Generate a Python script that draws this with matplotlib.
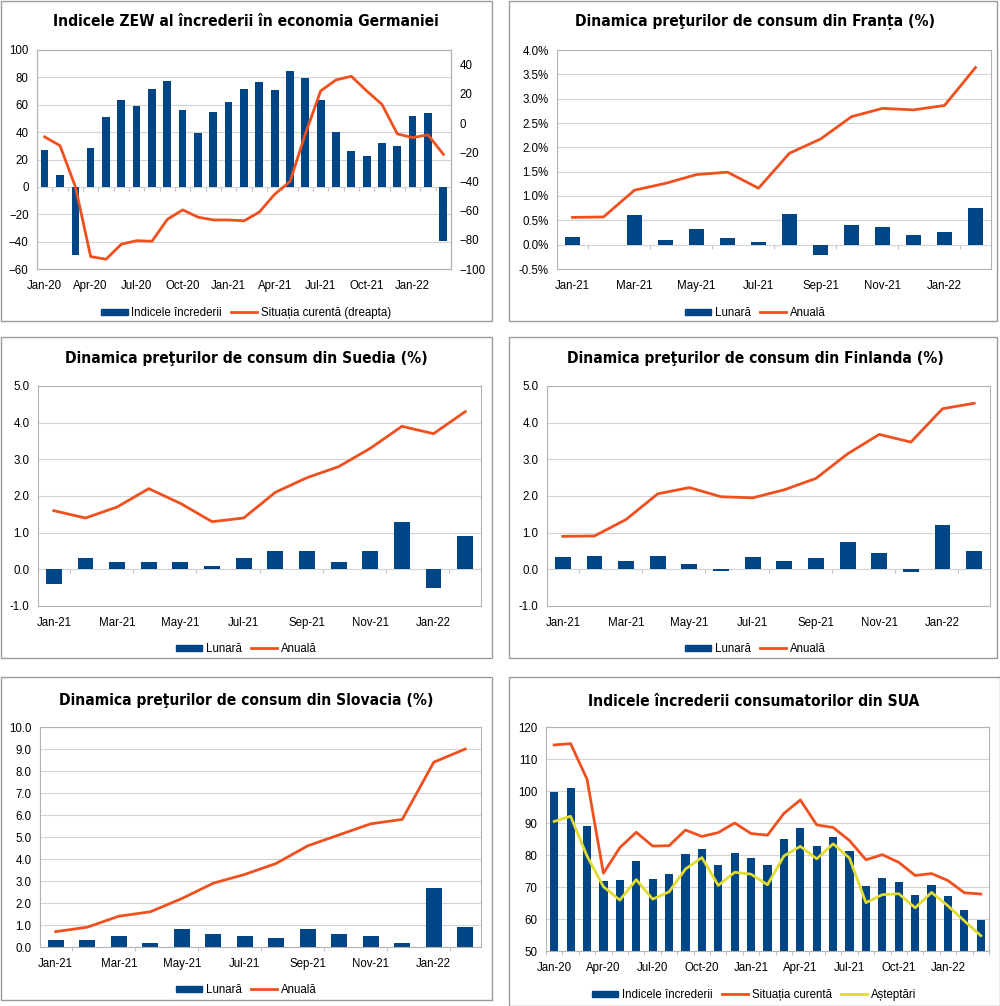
import matplotlib
matplotlib.use("Agg")
import matplotlib.pyplot as plt
from matplotlib import font_manager
from matplotlib.patches import Rectangle, Patch
from matplotlib.lines import Line2D
from matplotlib.ticker import FuncFormatter, NullFormatter

plt.rcParams['font.family'] = ['Liberation Sans', 'DejaVu Sans']

# ---- data ----
months_20 = ["Jan-20", "Feb-20", "Mar-20", "Apr-20", "May-20", "Jun-20", "Jul-20", "Aug-20", "Sep-20",
             "Oct-20", "Nov-20", "Dec-20", "Jan-21", "Feb-21", "Mar-21", "Apr-21", "May-21", "Jun-21",
             "Jul-21", "Aug-21", "Sep-21", "Oct-21", "Nov-21", "Dec-21", "Jan-22", "Feb-22", "Mar-22"]
months_21 = ["Jan-21", "Feb-21", "Mar-21", "Apr-21", "May-21", "Jun-21", "Jul-21", "Aug-21", "Sep-21",
             "Oct-21", "Nov-21", "Dec-21", "Jan-22", "Feb-22"]

zew_sentiment = [27.0, 8.7, -49.5, 28.2, 51.0, 63.4, 59.3, 71.5, 77.4, 56.1, 39.0, 55.0, 61.8, 71.2,
                 76.6, 70.7, 84.4, 79.8, 63.3, 40.4, 26.5, 22.3, 31.7, 29.9, 51.7, 54.3, -39.3]
zew_current = [-9.5, -15.5, -43.5, -91.5, -93.3, -83.0, -80.6, -81.0, -66.0, -59.5, -64.5, -66.4,
               -66.4, -67.0, -61.0, -48.8, -40.1, -7.5, 22.0, 29.5, 32.0, 22.0, 12.7, -7.5, -10.0,
               -8.1, -21.4]

fr_monthly = [0.15, 0.0, 0.60, 0.10, 0.32, 0.13, 0.05, 0.62, -0.22, 0.41, 0.36, 0.19, 0.25, 0.76]
fr_annual = [0.56, 0.57, 1.12, 1.26, 1.44, 1.49, 1.16, 1.88, 2.17, 2.63, 2.80, 2.77, 2.86, 3.64]

se_monthly = [-0.4, 0.3, 0.2, 0.2, 0.2, 0.1, 0.3, 0.5, 0.5, 0.2, 0.5, 1.3, -0.5, 0.9]
se_annual = [1.6, 1.4, 1.7, 2.2, 1.8, 1.3, 1.4, 2.1, 2.5, 2.8, 3.3, 3.9, 3.7, 4.3]

fi_monthly = [0.34, 0.36, 0.22, 0.37, 0.15, -0.04, 0.33, 0.22, 0.31, 0.75, 0.44, -0.06, 1.21, 0.51]
fi_annual = [0.90, 0.91, 1.36, 2.06, 2.23, 1.98, 1.95, 2.17, 2.48, 3.15, 3.68, 3.47, 4.38, 4.53]

sk_monthly = [0.3, 0.3, 0.5, 0.2, 0.8, 0.6, 0.5, 0.4, 0.8, 0.6, 0.5, 0.2, 2.7, 0.9]
sk_annual = [0.7, 0.9, 1.4, 1.6, 2.2, 2.9, 3.3, 3.8, 4.6, 5.1, 5.6, 5.8, 8.4, 9.0]

us_sentiment = [99.8, 101.0, 89.1, 71.8, 72.3, 78.1, 72.5, 74.1, 80.4, 81.8, 76.9, 80.7, 79.0, 76.8,
                84.9, 88.3, 82.9, 85.5, 81.2, 70.3, 72.8, 71.7, 67.4, 70.6, 67.2, 62.8, 59.7]
us_current = [114.4, 114.8, 103.7, 74.3, 82.3, 87.1, 82.8, 82.9, 87.8, 85.8, 87.0, 90.0, 86.7, 86.2,
              93.0, 97.2, 89.4, 88.6, 84.5, 78.5, 80.1, 77.7, 73.6, 74.2, 72.0, 68.2, 67.8]
us_expect = [90.5, 92.1, 79.7, 70.1, 65.9, 72.3, 66.2, 68.5, 75.6, 79.2, 70.5, 74.6, 74.0, 70.7,
             79.7, 82.7, 78.8, 83.5, 79.0, 65.1, 67.6, 67.9, 63.5, 68.3, 64.1, 59.4, 54.8]

titles = ["Indicele ZEW al încrederii în economia Germaniei",
          "Dinamica preţurilor de consum din Franța (%)",
          "Dinamica preţurilor de consum din Suedia (%)",
          "Dinamica preţurilor de consum din Finlanda (%)",
          "Dinamica preţurilor de consum din Slovacia (%)",
          "Indicele încrederii consumatorilor din SUA"]

BLUE = "#004586"
ORANGE = "#f0501e"
YELLOW = "#e2dc30"
GRID = "#d4d4d4"
FRAME = "#b3b3b3"

W, H = 1000, 1006
fig = plt.figure(figsize=(W / 100, H / 100), dpi=100)

# pick a narrow bold face for the titles if one is around
narrow = [f for f in font_manager.fontManager.ttflist
          if f.weight in (700, "bold") and f.style == "normal"
          and ("ondensed" in f.fname or "Narrow" in f.fname)]
narrow.sort(key=lambda f: f.fname)
TITLE_FILE = narrow[0].fname if narrow else None


def px_box(x0, y0, x1, y1):
    # pixel box (top-left origin) -> figure fraction [l, b, w, h]
    return [x0 / W, 1 - y1 / H, (x1 - x0) / W, (y1 - y0) / H]


def frame(x0, y0, x1, y1):
    l, b, w, h = px_box(x0, y0, x1, y1)
    fig.patches.append(Rectangle((l, b), w, h, transform=fig.transFigure, fill=False,
                                 edgecolor="#9a9a9a", linewidth=1.0))


def title(text, xc, y):
    if TITLE_FILE:
        fp = font_manager.FontProperties(fname=TITLE_FILE, size=11.2)
    else:
        fp = font_manager.FontProperties(family=["Roboto", "DejaVu Sans"], weight="bold", size=10.5)
    fig.text(xc / W, 1 - y / H, text, ha="center", va="center", fontproperties=fp)


def style_axes(ax, labels, step, ylim, yticks, marks):
    n = len(labels)
    ax.set_xlim(-0.5, n - 0.5)
    ax.set_ylim(*ylim)
    ax.set_yticks(yticks)
    ax.set_xticks(range(0, n, step))
    ax.set_xticklabels(labels[::step])
    ax.grid(axis="y", color=GRID, linewidth=0.8)
    ax.set_axisbelow(True)
    for s in ax.spines.values():
        s.set_color(FRAME)
        s.set_linewidth(0.8)
    ax.tick_params(axis="both", labelsize=8.3, length=0, pad=6)
    ax.tick_params(axis="x", pad=8)
    # little category marks where the x axis crosses zero
    zero = (max(0, ylim[0]) - ylim[0]) / (ylim[1] - ylim[0])
    sec = ax.secondary_xaxis(zero)
    sec.xaxis.set_ticks_position("bottom")
    sec.set_xticks(marks)
    sec.xaxis.set_major_formatter(NullFormatter())
    sec.tick_params(axis="x", which="both", direction="out", length=3, width=0.8, color="#c4c4c4",
                    labelbottom=False, labeltop=False, top=False, bottom=True)
    for s in sec.spines.values():
        s.set_visible(False)


def legend(handles, labels, xc, y):
    fig.legend(handles, labels, loc="center", bbox_to_anchor=(xc / W, 1 - y / H), ncol=len(handles),
               frameon=False, fontsize=8.3, handlelength=2.3, handleheight=0.5, columnspacing=0.8,
               handletextpad=0.3)


bar_h = lambda: Patch(facecolor=BLUE, edgecolor=BLUE)
line_h = lambda c: Line2D([], [], color=c, linewidth=2)

every_27 = [i + 0.5 for i in range(-1, 27)]
every_2nd = [i + 0.5 for i in range(0, 14, 2)]

# panel frames
frame(1, 1, 492, 321)
frame(509, 1, 997, 321)
frame(1, 337, 492, 658)
frame(509, 337, 997, 658)
frame(1, 677, 492, 1000)
frame(509, 677, 1000, 1006)

# ---- 1: ZEW ----
ax = fig.add_axes(px_box(37, 50, 451, 269))
x = range(len(months_20))
ax.bar(x, zew_sentiment, width=0.5, color=BLUE)
style_axes(ax, months_20, 3, (-60, 100), range(-60, 101, 20), every_27)
ax2 = ax.twinx()
ax2.plot(x, zew_current, color=ORANGE, linewidth=2)
ax2.set_ylim(-100, 50)
ax2.set_yticks(range(-100, 41, 20))
ax2.tick_params(axis="y", labelsize=8.3, length=0, pad=6)
for s in ax2.spines.values():
    s.set_color(FRAME)
    s.set_linewidth(0.8)
title(titles[0], 246, 22)
legend([bar_h(), line_h(ORANGE)], ["Indicele încrederii", "Situația curentă (dreapta)"], 246, 313)

# ---- 2: France ----
ax = fig.add_axes(px_box(557, 50, 991, 269))
x = range(len(months_21))
ax.bar(x, fr_monthly, width=0.5, color=BLUE)
ax.plot(x, fr_annual, color=ORANGE, linewidth=2)
style_axes(ax, months_21, 2, (-0.5, 4.0), [i * 0.5 for i in range(-1, 9)], every_2nd)
ax.yaxis.set_major_formatter(FuncFormatter(lambda v, p: f"{v:.1f}%"))
title(titles[1], 755, 22)
legend([bar_h(), line_h(ORANGE)], ["Lunară", "Anuală"], 755, 313)

# ---- 3: Sweden ----
ax = fig.add_axes(px_box(38, 386, 481, 606))
ax.bar(x, se_monthly, width=0.5, color=BLUE)
ax.plot(x, se_annual, color=ORANGE, linewidth=2)
style_axes(ax, months_21, 2, (-1, 5), range(-1, 6), every_2nd)
ax.yaxis.set_major_formatter(FuncFormatter(lambda v, p: f"{v:.1f}"))
title(titles[2], 246, 359)
legend([bar_h(), line_h(ORANGE)], ["Lunară", "Anuală"], 246, 649)

# ---- 4: Finland ----
ax = fig.add_axes(px_box(547, 386, 990, 606))
ax.bar(x, fi_monthly, width=0.5, color=BLUE)
ax.plot(x, fi_annual, color=ORANGE, linewidth=2)
style_axes(ax, months_21, 2, (-1, 5), range(-1, 6), every_2nd)
ax.yaxis.set_major_formatter(FuncFormatter(lambda v, p: f"{v:.1f}"))
title(titles[3], 755, 359)
legend([bar_h(), line_h(ORANGE)], ["Lunară", "Anuală"], 755, 649)

# ---- 5: Slovakia ----
ax = fig.add_axes(px_box(40, 727, 481, 947))
ax.bar(x, sk_monthly, width=0.5, color=BLUE)
ax.plot(x, sk_annual, color=ORANGE, linewidth=2)
style_axes(ax, months_21, 2, (0, 10), range(0, 11), every_2nd)
ax.yaxis.set_major_formatter(FuncFormatter(lambda v, p: f"{v:.1f}"))
title(titles[4], 246, 700)
legend([bar_h(), line_h(ORANGE)], ["Lunară", "Anuală"], 246, 990)

# ---- 6: USA ----
ax = fig.add_axes(px_box(546, 727, 989, 951))
x = range(len(months_20))
ax.bar(x, us_sentiment, width=0.5, color=BLUE)
ax.plot(x, us_current, color=ORANGE, linewidth=2)
ax.plot(x, us_expect, color=YELLOW, linewidth=2)
style_axes(ax, months_20, 3, (50, 120), range(50, 121, 10), every_27)
title(titles[5], 754, 701)
legend([bar_h(), line_h(ORANGE), line_h(YELLOW)], ["Indicele încrederii", "Situația curentă", "Așteptări"],
       754, 995)

fig.savefig("out.png", dpi=100)
